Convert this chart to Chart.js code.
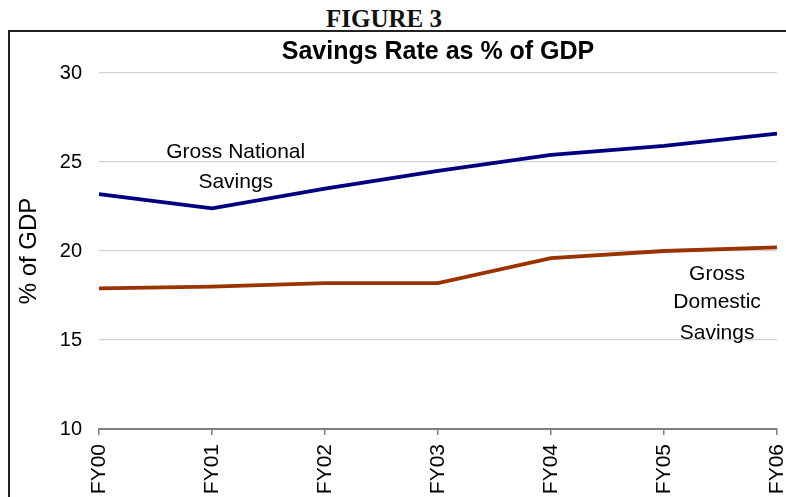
<!DOCTYPE html>
<html>
<head>
<meta charset="utf-8">
<script src="https://cdn.jsdelivr.net/npm/chart.js@4.4.0/dist/chart.umd.min.js"></script>
<style>
    body { margin: 0; width: 786px; height: 497px; overflow: hidden; background: #fff; position: relative; }
    #figTitle { position: absolute; left: 0; width: 768px; top: 5px; text-align: center;
        font: bold 25px "Liberation Serif", "Times New Roman", serif; color: #111; }
    #box { position: absolute; left: 8px; top: 30px; width: 800px; height: 500px;
        border-left: 2px solid #222; border-top: 2px solid #222; }
    #chart { position: absolute; left: 0; top: 0; }
</style>
</head>
<body>
<div id="figTitle">FIGURE 3</div>
<div id="box"></div>
<canvas id="chart" width="786" height="510"></canvas>
<script>
const years = ["FY00", "FY01", "FY02", "FY03", "FY04", "FY05", "FY06"];
const grossNational = [23.2, 22.4, 23.5, 24.5, 25.4, 25.9, 26.6];
const grossDomestic = [17.9, 18.0, 18.2, 18.2, 19.6, 20.0, 20.2];
const yTicks = [10, 15, 20, 25, 30];

const sans = "'Liberation Sans', Arial, sans-serif";

// title and the two series labels
const labelPlugin = {
    id: "labels",
    afterDraw(chart) {
        const c = chart.ctx;
        const x = chart.scales.x;
        const y = chart.scales.y;
        c.save();
        c.fillStyle = "#000";
        c.textAlign = "center";
        c.textBaseline = "middle";
        c.font = "bold 25px " + sans;
        c.fillText("Savings Rate as % of GDP", (chart.chartArea.left + chart.chartArea.right) / 2, 52);

        c.font = "21px " + sans;
        const gx = x.getPixelForValue(1.21);
        c.fillText("Gross National", gx, y.getPixelForValue(25.56));
        c.fillText("Savings", gx, y.getPixelForValue(23.88));

        const dx = x.getPixelForValue(5.47);
        c.fillText("Gross", dx, y.getPixelForValue(18.7));
        c.fillText("Domestic", dx, y.getPixelForValue(17.13));
        c.fillText("Savings", dx, y.getPixelForValue(15.39));
        c.restore();
    }
};

new Chart(document.getElementById("chart").getContext("2d"), {
    type: "line",
    data: {
        labels: years,
        datasets: [{
            label: "Gross National Savings",
            data: grossNational,
            borderColor: "#000080",
            borderWidth: 3.8,
            pointRadius: 0,
            tension: 0
        }, {
            label: "Gross Domestic Savings",
            data: grossDomestic,
            borderColor: "#993300",
            borderWidth: 3.8,
            pointRadius: 0,
            tension: 0
        }]
    },
    options: {
        responsive: false,
        animation: false,
        layout: { padding: { top: 73, right: 9, left: 0, bottom: 0 } },
        plugins: {
            legend: { display: false },
            tooltip: { enabled: false },
            title: { display: false }
        },
        scales: {
            x: {
                afterFit: (s) => { s.height = 81; s.paddingLeft = 0; s.paddingRight = 0; },
                grid: { drawOnChartArea: false, drawTicks: true, tickLength: 6, color: "#808080", lineWidth: 1.5 },
                border: { display: true, color: "#808080", width: 2 },
                ticks: { minRotation: 90, maxRotation: 90, padding: 9, color: "#000", font: { family: sans, size: 21 } }
            },
            y: {
                min: yTicks[0],
                max: yTicks[yTicks.length - 1],
                afterFit: (s) => { s.width = 99; s.paddingTop = 0; s.paddingBottom = 0; },
                afterBuildTicks: (s) => { s.ticks = yTicks.map(v => ({ value: v })); },
                grid: {
                    drawTicks: false,
                    color: (ctx) => ctx.tick && ctx.tick.value === 10 ? "rgba(0,0,0,0)" : "#d4d4d4",
                    lineWidth: 1.2
                },
                border: { display: false },
                ticks: { padding: 17, color: "#000", font: { family: sans, size: 20 } },
                title: { display: true, text: "% of GDP", color: "#000", padding: { top: 15 }, font: { family: sans, size: 24 } }
            }
        }
    },
    plugins: [labelPlugin]
});
</script>
</body>
</html>
